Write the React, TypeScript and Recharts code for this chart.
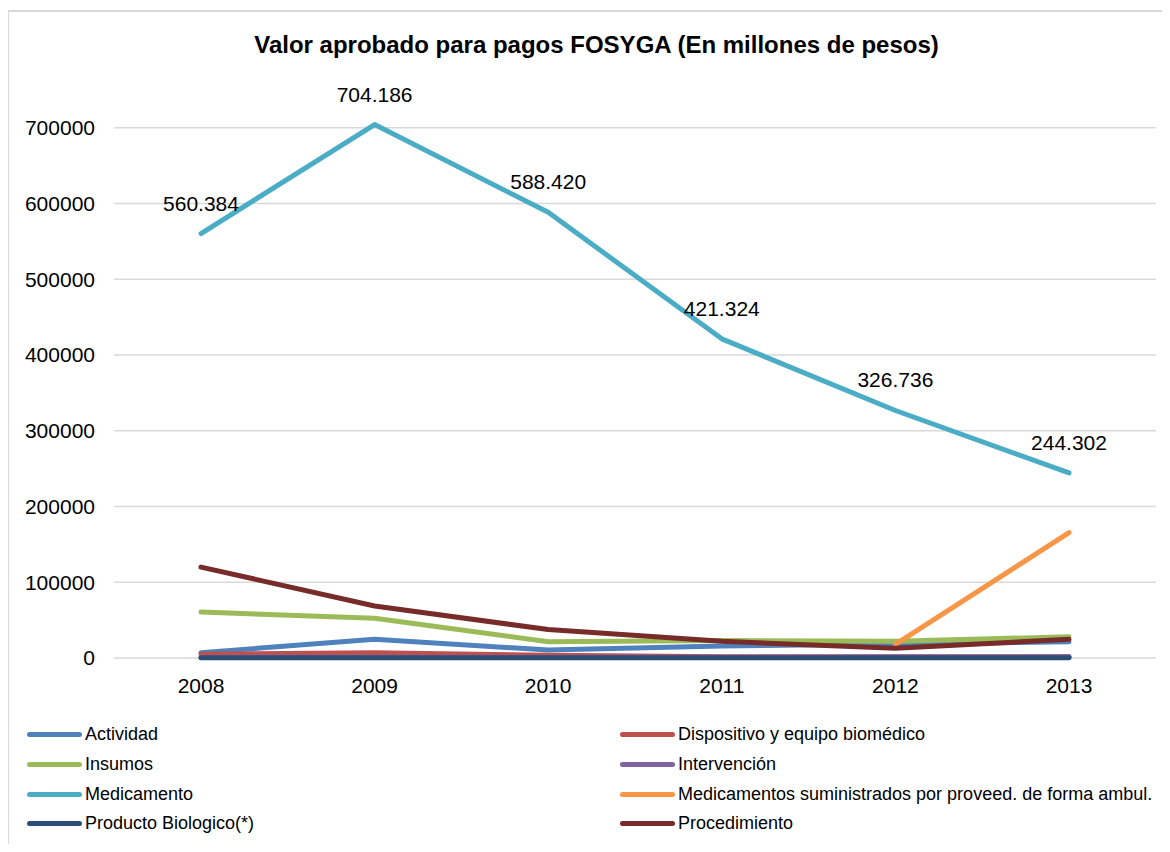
import React from 'react';
import { LineChart, Line, XAxis, YAxis, CartesianGrid, LabelList } from 'recharts';

const years = ['2008', '2009', '2010', '2011', '2012', '2013'];

const actividad = [7000, 24700, 10500, 15800, 18500, 21500];
const dispositivo = [5000, 6800, 3700, 1500, 1500, 1500];
const insumos = [60800, 52400, 21500, 23000, 22000, 28000];
const intervencion = [800, 900, 800, 1000, 1200, 1500];
const medicamento = [560384, 704186, 588420, 421324, 326736, 244302];
const medAmbul = [null, null, null, null, 18000, 165500];
const biologico = [300, 300, 300, 300, 300, 300];
const procedimiento = [120000, 68700, 37500, 22000, 12800, 24700];

const yTicks = [0, 100000, 200000, 300000, 400000, 500000, 600000, 700000];

const series = [
  { key: 'actividad', name: 'Actividad', color: '#4F81BD', values: actividad },
  { key: 'dispositivo', name: 'Dispositivo y equipo biomédico', color: '#C0504D', values: dispositivo },
  { key: 'insumos', name: 'Insumos', color: '#9BBB59', values: insumos },
  { key: 'intervencion', name: 'Intervención', color: '#8064A2', values: intervencion },
  { key: 'medicamento', name: 'Medicamento', color: '#4BACC6', values: medicamento },
  { key: 'medAmbul', name: 'Medicamentos suministrados por proveed. de forma ambul.', color: '#F79646', values: medAmbul },
  { key: 'biologico', name: 'Producto Biologico(*)', color: '#2C4D75', values: biologico },
  { key: 'procedimiento', name: 'Procedimiento', color: '#772C2A', values: procedimiento },
];

const data = years.map((year, i) => {
  const row: Record<string, any> = { year };
  series.forEach((s) => {
    row[s.key] = s.values[i];
  });
  return row;
});

const font = '"Liberation Sans", Arial, sans-serif';

const fmt = (v: number) => String(v).replace(/\B(?=(\d{3})+(?!\d))/g, '.');

const renderLabel = (props: any) => {
  const { x, y, value } = props;
  return (
    <text x={x} y={y - 23} textAnchor="middle" fontSize={21} fill="#000" fontFamily={font}>
      {fmt(value)}
    </text>
  );
};

// skip the grid line at the top of the plot (800000 is not a tick in the original)
const gridLine = (p: any) => {
  if (p.y1 < 60) return <g key={p.key} />;
  return <line key={p.key} x1={p.x1} y1={p.y1} x2={p.x2} y2={p.y2} stroke="#D9D9D9" strokeWidth={1.5} />;
};

function ChartLegend() {
  return (
    <div
      style={{
        position: 'absolute',
        left: 27,
        top: 720,
        display: 'grid',
        gridTemplateColumns: '593px 1fr',
      }}
    >
      {series.map((s) => (
        <div key={s.key} style={{ display: 'flex', alignItems: 'center', height: 29.7 }}>
          <span
            style={{
              display: 'inline-block',
              width: 55,
              height: 5,
              borderRadius: 3,
              background: s.color,
              marginRight: 3,
            }}
          />
          <span style={{ fontSize: 18, color: '#000', whiteSpace: 'nowrap' }}>{s.name}</span>
        </div>
      ))}
    </div>
  );
}

export default function App() {
  return (
    <div style={{ margin: -8, position: 'relative', width: 1170, height: 852, overflow: 'hidden', background: '#fff', fontFamily: font }}>
      <div
        style={{
          position: 'absolute',
          left: 0,
          top: 31,
          width: 1193,
          textAlign: 'center',
          fontSize: 24,
          fontWeight: 'bold',
          color: '#000',
        }}
      >
        Valor aprobado para pagos FOSYGA (En millones de pesos)
      </div>
      <LineChart width={1170} height={852} data={data} margin={{ top: 52, right: 14, left: 0, bottom: 164 }}>
        <CartesianGrid vertical={false} horizontal={gridLine} stroke="#D9D9D9" strokeWidth={1.5} />
        <XAxis
          dataKey="year"
          height={30}
          axisLine={false}
          tickLine={false}
          tickSize={0}
          tickMargin={20}
          padding={{ left: 87, right: 87 }}
          tick={{ fontSize: 21, fill: '#000', fontFamily: font }}
        />
        <YAxis
          width={114}
          domain={[0, 800000]}
          ticks={yTicks}
          axisLine={false}
          tickLine={false}
          tickSize={0}
          tickMargin={19}
          interval={0}
          tick={{ fontSize: 21, fill: '#000', fontFamily: font }}
        />
        {series.map((s) => (
          <Line
            key={s.key}
            type="linear"
            dataKey={s.key}
            name={s.name}
            stroke={s.color}
            strokeWidth={5}
            strokeLinecap="round"
            strokeLinejoin="round"
            dot={false}
            activeDot={false}
            isAnimationActive={false}
          >
            {s.key === 'medicamento' && <LabelList dataKey="medicamento" content={renderLabel} />}
          </Line>
        ))}
      </LineChart>
      <ChartLegend />
      <div
        style={{
          position: 'absolute',
          left: 7,
          top: 10,
          width: 1300,
          height: 1000,
          borderTop: '2px solid #D9D9D9',
          borderLeft: '2px solid #D9D9D9',
          pointerEvents: 'none',
          zIndex: 5,
        }}
      />
    </div>
  );
}
